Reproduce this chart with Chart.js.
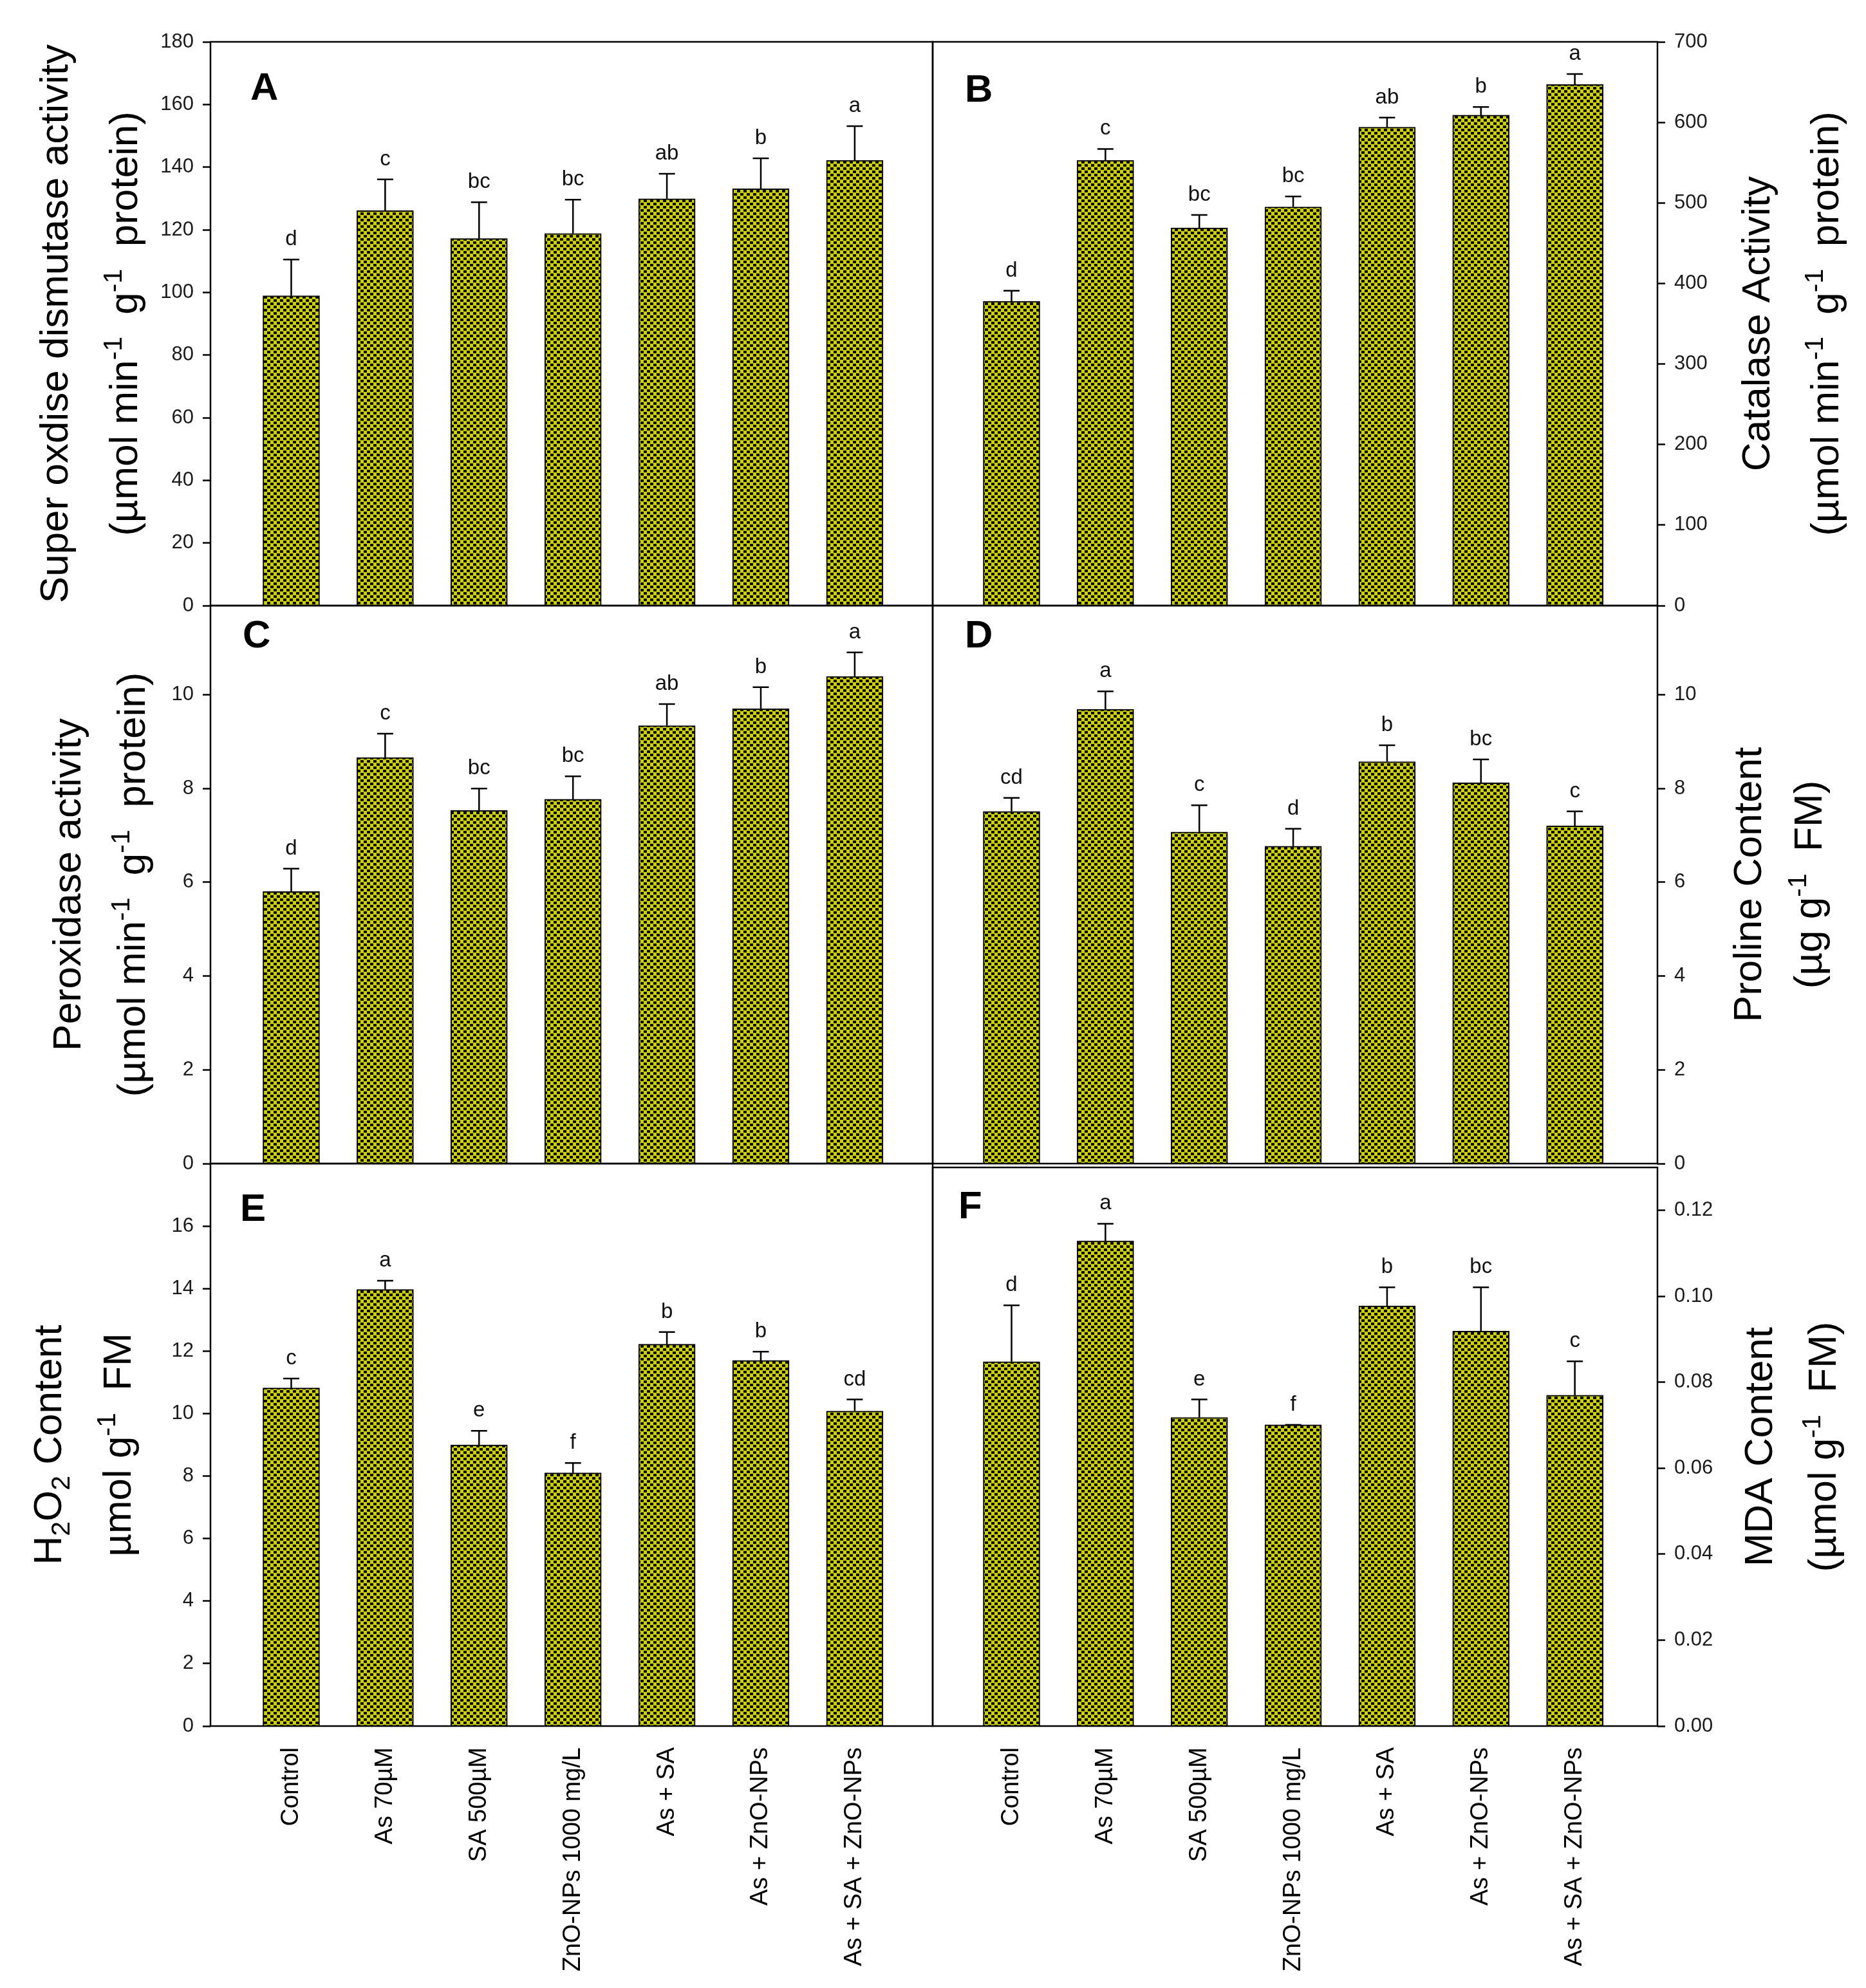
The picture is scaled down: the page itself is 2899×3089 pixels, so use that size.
<!DOCTYPE html>
<html>
<head>
<meta charset="utf-8">
<script src="https://cdn.jsdelivr.net/npm/chart.js@4.4.0/dist/chart.umd.min.js"></script>
<style>
body{margin:0;background:#fff;width:2899px;height:3089px;position:relative;overflow:hidden}
canvas{position:absolute}
</style>
</head>
<body>
<canvas id="cA"></canvas>
<canvas id="cB"></canvas>
<canvas id="cC"></canvas>
<canvas id="cD"></canvas>
<canvas id="cE"></canvas>
<canvas id="cF"></canvas>
<script>
var treatments=['Control','As 70µM','SA 500µM','ZnO-NPs 1000 mg/L','As + SA','As + ZnO-NPs','As + SA + ZnO-NPs']

// A - SOD
var sodMean=[98.9,126.1,117.2,118.8,129.9,133.1,142.2]
var sodErr=[11.6,10.0,11.6,10.8,8.0,9.7,10.9]
var sodLetters=['d','c','bc','bc','ab','b','a']
var sodTicks=[0,20,40,60,80,100,120,140,160,180]

// B - catalase
var catMean=[378,553,469,495,594,609,647]
var catErr=[13,14,16,13,12,10,13]
var catLetters=['d','c','bc','bc','ab','b','a']
var catTicks=[0,100,200,300,400,500,600,700]

// C - peroxidase
var podMean=[5.80,8.66,7.53,7.77,9.34,9.70,10.39]
var podErr=[0.49,0.51,0.47,0.49,0.46,0.46,0.51]
var podLetters=['d','c','bc','bc','ab','b','a']
var podTicks=[0,2,4,6,8,10]

// D - proline
var proMean=[7.51,9.69,7.07,6.77,8.57,8.12,7.20]
var proErr=[0.29,0.38,0.57,0.37,0.35,0.50,0.31]
var proLetters=['cd','a','c','d','b','bc','c']
var proTicks=[0,2,4,6,8,10]

// E - H2O2
var h2o2Mean=[10.82,13.97,9.00,8.10,12.22,11.70,10.08]
var h2o2Err=[0.30,0.28,0.45,0.32,0.39,0.28,0.37]
var h2o2Letters=['c','a','e','f','b','b','cd']
var h2o2Ticks=[0,2,4,6,8,10,12,14,16]

// F - MDA
var mdaMean=[0.0848,0.1129,0.0718,0.0701,0.0978,0.0919,0.0770]
var mdaErr=[0.0131,0.0040,0.0042,0,0.0043,0.0102,0.0079]
var mdaLetters=['d','a','e','f','b','bc','c']
var mdaTicks=[0,0.02,0.04,0.06,0.08,0.10,0.12]

var fam='"Liberation Sans", Arial, sans-serif'
Chart.defaults.font.family=fam
Chart.defaults.color='#111'

function dotFill(){
    var t=document.createElement('canvas')
    t.width=10; t.height=10
    var g=t.getContext('2d')
    g.fillStyle='#cccf00'
    g.fillRect(0,0,10,10)
    g.fillStyle='#0a0a00'
    g.fillRect(0,0,5,4)
    g.fillRect(5,5,5,4)
    return g.createPattern(t,'repeat')
}

var supLine=[['(µmol min'],['-1','sup'],['  g'],['-1','sup'],['  protein)']]

var panels=[
    {id:'cA', box:[0,0,1470,960], pad:{left:237,right:21,top:65,bottom:19}, side:'left', showX:false,
     mean:sodMean, err:sodErr, letters:sodLetters, ticks:sodTicks, max:180, xmin:0.14, xmax:7.83,
     tag:'A', tagPos:[62,90],
     titles:[[['Super oxdise dismutase activity']], supLine], titleX:[-244,-136]},
    {id:'cB', box:[1430,0,1469,960], pad:{left:19,right:234,top:65,bottom:19}, side:'right', showX:false,
     mean:catMean, err:catErr, letters:catLetters, ticks:catTicks, max:700, xmin:0.16, xmax:7.88,
     tag:'B', tagPos:[50,93],
     titles:[[['Catalase Activity']], supLine], titleX:[152,259]},
    {id:'cC', box:[0,921,1470,910], pad:{left:237,right:21,top:20,bottom:23}, side:'left', showX:false,
     mean:podMean, err:podErr, letters:podLetters, ticks:podTicks, max:11.9, xmin:0.14, xmax:7.83,
     tag:'C', tagPos:[50,65],
     titles:[[['Peroxidase activity']], supLine], titleX:[-224,-124]},
    {id:'cD', box:[1430,921,1469,910], pad:{left:19,right:234,top:20,bottom:23}, side:'right', showX:false,
     mean:proMean, err:proErr, letters:proLetters, ticks:proTicks, max:11.9, xmin:0.16, xmax:7.88,
     tag:'D', tagPos:[50,65],
     titles:[[['Proline Content']], [['(µg g'],['-1','sup'],['  FM)']]], titleX:[139,233]},
    {id:'cE', box:[0,1785,1470,1304], pad:{left:237,right:21,top:23,bottom:27}, side:'left', showX:true,
     mean:h2o2Mean, err:h2o2Err, letters:h2o2Letters, ticks:h2o2Ticks, max:18, xmin:0.14, xmax:7.83,
     tag:'E', tagPos:[46,89],
     titles:[[['H'],['2','sub'],['O'],['2','sub'],[' Content']], [['µmol g'],['-1','sup'],['  FM']]], titleX:[-254,-146]},
    {id:'cF', box:[1430,1785,1469,1304], pad:{left:19,right:234,top:29,bottom:27}, side:'right', showX:true,
     mean:mdaMean, err:mdaErr, letters:mdaLetters, ticks:mdaTicks, max:0.13, xmin:0.16, xmax:7.88,
     tag:'F', tagPos:[40,79], fmt:function(v){return v.toFixed(2)},
     titles:[[['MDA Content']], [['(µmol g'],['-1','sup'],['  FM)']]], titleX:[156,255]}
]

function drawRich(ctx,segs,cx,cy,size){
    ctx.save()
    ctx.translate(cx,cy)
    ctx.rotate(-Math.PI/2)
    var parts=segs.map(function(s){
        var sz=s[1]?size*0.66:size
        ctx.font=sz+'px '+fam
        return {t:s[0],k:s[1],sz:sz,w:ctx.measureText(s[0]).width}
    })
    var total=parts.reduce(function(a,b){return a+b.w},0)
    var x=-total/2
    ctx.fillStyle='#000'
    ctx.textBaseline='alphabetic'
    ctx.textAlign='left'
    parts.forEach(function(pt){
        ctx.font=pt.sz+'px '+fam
        var dy=pt.k=='sup'?-size*0.4:(pt.k=='sub'?size*0.2:0)
        ctx.fillText(pt.t,x,size*0.36+dy)
        x+=pt.w
    })
    ctx.restore()
}

function makePanel(p){
    var cv=document.getElementById(p.id)
    cv.width=p.box[2]; cv.height=p.box[3]
    cv.style.left=p.box[0]+'px'; cv.style.top=p.box[1]+'px'
    cv.style.width=p.box[2]+'px'; cv.style.height=p.box[3]+'px'

    var decor={
        id:'decor'+p.id,
        afterDatasetsDraw:function(chart){
            var ctx=chart.ctx, xs=chart.scales.x, ys=chart.scales.y, a=chart.chartArea
            ctx.save()
            // error bars + letters
            ctx.strokeStyle='#000'
            ctx.lineWidth=2.5
            ctx.fillStyle='#111'
            ctx.font='33px '+fam
            ctx.textAlign='center'
            ctx.textBaseline='alphabetic'
            p.mean.forEach(function(v,i){
                var x=xs.getPixelForValue(i+1)
                var yb=ys.getPixelForValue(v)
                var yt=ys.getPixelForValue(v+p.err[i])
                ctx.beginPath()
                ctx.moveTo(x,yb); ctx.lineTo(x,yt)
                ctx.moveTo(x-12.5,yt); ctx.lineTo(x+12.5,yt)
                ctx.stroke()
                ctx.fillText(p.letters[i],x,yt-22)
            })
            // frame
            ctx.lineWidth=2.5
            ctx.strokeRect(a.left,a.top,a.right-a.left,a.bottom-a.top)
            // panel tag
            ctx.font='bold 60px '+fam
            ctx.textAlign='left'
            ctx.fillStyle='#000'
            ctx.fillText(p.tag,a.left+p.tagPos[0],a.top+p.tagPos[1])
            ctx.restore()
            // axis titles
            var cy=(a.top+a.bottom)/2
            var base=p.side=='left'?a.left:a.right
            p.titles.forEach(function(t,k){
                drawRich(ctx,t,base+p.titleX[k],cy,62)
            })
        }
    }

    return new Chart(cv,{
        type:'bar',
        data:{
            datasets:[{
                data:p.mean.map(function(v,i){return {x:i+1,y:v}}),
                backgroundColor:dotFill(),
                borderColor:'#000',
                borderWidth:2,
                barThickness:88
            }]
        },
        options:{
            responsive:false,
            animation:false,
            devicePixelRatio:1,
            layout:{padding:p.pad, autoPadding:false},
            plugins:{legend:{display:false}, tooltip:{enabled:false}},
            scales:{
                x:{
                    type:'linear',
                    offset:false,
                    min:p.xmin, max:p.xmax,
                    display:p.showX,
                    afterBuildTicks:function(s){s.ticks=treatments.map(function(t,i){return {value:i+1}})},
                    afterFit:function(s){
                        s.height=p.showX?380:0
                        s.paddingLeft=0; s.paddingRight=0
                    },
                    grid:{display:false, drawTicks:false},
                    border:{display:false},
                    ticks:{
                        autoSkip:false, minRotation:90, maxRotation:90, padding:33,
                        color:'#000', font:{size:38},
                        callback:function(v){return treatments[v-1]}
                    }
                },
                y:{
                    position:p.side,
                    min:0, max:p.max,
                    afterBuildTicks:function(s){s.ticks=p.ticks.map(function(v){return {value:v}})},
                    afterFit:function(s){
                        s.width=90
                        s.paddingTop=0; s.paddingBottom=0
                    },
                    grid:{drawOnChartArea:false, drawTicks:true, tickLength:12, tickWidth:2.5, color:'#000'},
                    border:{display:false},
                    ticks:{
                        padding:14, color:'#1a1a1a', font:{size:31},
                        callback:p.fmt||function(v){return String(v)}
                    }
                }
            }
        },
        plugins:[decor]
    })
}

panels.forEach(makePanel)
</script>
</body>
</html>
